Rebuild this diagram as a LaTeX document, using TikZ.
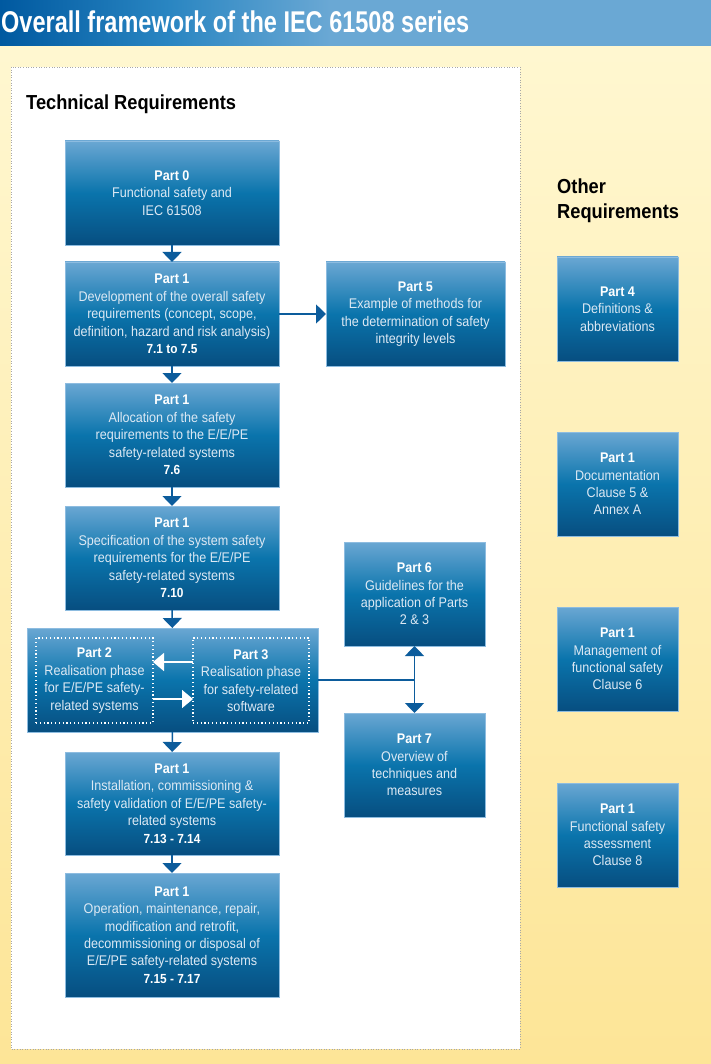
\documentclass[tikz,border=0pt]{standalone}
\usepackage{fontspec}
\setmainfont{Liberation Sans}[FakeStretch=0.9]
\usetikzlibrary{arrows.meta}
\definecolor{boxtop}{HTML}{6AA7D3}
\definecolor{boxmid}{HTML}{0A74AC}
\definecolor{boxbot}{HTML}{074E80}
\definecolor{boxedge}{HTML}{8DBCE0}
\definecolor{boxtext}{HTML}{DDE9F4}
\definecolor{arrowblue}{HTML}{0C5C9C}
\definecolor{bgtop}{HTML}{FFF8D3}
\definecolor{bgbot}{HTML}{FDE597}
\definecolor{titleL}{HTML}{0059A0}
\definecolor{titleM}{HTML}{2A86C2}
\definecolor{titleR}{HTML}{6AA8D4}
\definecolor{panelgray}{HTML}{A8A8A8}
\newcommand\partlbl[1]{{\bfseries\color{white}#1}}
\newcommand\clauselbl[1]{{\fontsize{13.2}{17.4}\selectfont\bfseries\color{white}#1}}
\begin{document}
\begin{tikzpicture}[x=1pt,y=-1pt,
  box/.style={draw=boxedge, line width=0.8pt, top color=boxtop, bottom color=boxbot, middle color=boxmid,
    minimum width=214pt, minimum height=104pt, inner sep=0pt, outer sep=0pt, align=center,
    text=boxtext, font=\fontsize{14}{17.4}\selectfont},
  inner/.style={draw=white, line width=1.2pt, dash pattern=on 1.2pt off 2.6pt, minimum width=117pt,
    minimum height=85pt, inner sep=0pt, outer sep=0pt, align=center, text=boxtext,
    font=\fontsize{14}{17.4}\selectfont},
  flow/.style={draw=arrowblue, line width=1.5pt, -{Triangle[width=19pt,length=10pt]}},
  dflow/.style={draw=arrowblue, line width=1.5pt, {Triangle[width=19pt,length=10pt]}-{Triangle[width=19pt,length=10pt]}},
  link/.style={draw=arrowblue, line width=1.4pt},
  wflow/.style={draw=white, line width=1.5pt, -{Triangle[width=18pt,length=11pt]}},
  heading/.style={font=\fontsize{20.3}{25}\selectfont\bfseries, text=black, inner sep=0pt, align=left}
]
\useasboundingbox (0,0) rectangle (711,1064);
% background
\shade[top color=bgtop, bottom color=bgbot] (0,0) rectangle (711,1064);
% title bar
\shade[left color=titleL, right color=titleM] (0,0) rectangle (170,46);
\shade[left color=titleM, right color=titleR] (170,0) rectangle (330,46);
\fill[titleR] (329.5,0) rectangle (711,46);
\node[anchor=base west, inner sep=0pt, text=white] (title) at (1,33)
  {\resizebox{468pt}{\height}{\fontsize{30}{31}\selectfont\bfseries Overall framework of the IEC 61508 series}};
% panel
\draw[fill=white, draw=panelgray, line width=0.8pt, dash pattern=on 0.8pt off 1.8pt] (11,67) rectangle (520,1049);
\node[heading, anchor=base west] (tech) at (26,110) {Technical Requirements};
\node[heading, anchor=north west] (other) at (557,179) {Other\\Requirements};

% left column
\node[box] (p0) at (172,193) {\partlbl{Part 0}\\Functional safety and\\IEC 61508};
\node[box] (p1a) at (172,314) {\partlbl{Part 1}\\Development of the overall safety\\requirements (concept, scope,\\definition, hazard and risk analysis)\\\clauselbl{7.1 to 7.5}};
\node[box, minimum width=179pt] (p5) at (415.5,314) {\partlbl{Part 5}\\Example of methods for\\the determination of safety\\integrity levels};
\node[box] (p1b) at (172,435) {\partlbl{Part 1}\\Allocation of the safety\\requirements to the E/E/PE\\safety-related systems\\\clauselbl{7.6}};
\node[box] (p1c) at (172,558) {\partlbl{Part 1}\\Specification of the system safety\\requirements for the E/E/PE\\safety-related systems\\\clauselbl{7.10}};
\node[box, minimum width=291pt] (c23) at (172.5,680) {};
\node[inner] (p2) at (94.5,680.5) {\partlbl{Part 2}\\Realisation phase\\for E/E/PE safety-\\related systems};
\node[inner, minimum width=116pt] (p3) at (251,680.5) {\partlbl{Part 3}\\Realisation phase\\for safety-related\\software};
\node[box, minimum width=141pt] (p6) at (414.5,594) {\partlbl{Part 6}\\Guidelines for the\\application of Parts\\2 \& 3};
\node[box, minimum width=141pt] (p7) at (414.5,765) {\partlbl{Part 7}\\Overview of\\techniques and\\measures};
\node[box, minimum height=103pt] (p1d) at (172,803.5) {\partlbl{Part 1}\\Installation, commissioning \&\\safety validation of E/E/PE safety-\\related systems\\\clauselbl{7.13 - 7.14}};
\node[box, minimum height=124pt] (p1e) at (172,935) {\partlbl{Part 1}\\Operation, maintenance, repair,\\modification and retrofit,\\decommissioning or disposal of\\E/E/PE safety-related systems\\\clauselbl{7.15 - 7.17}};

% right column
\node[box, minimum width=121pt] (p4) at (617.5,309) {\partlbl{Part 4}\\Definitions \&\\abbreviations};
\node[box, minimum width=121pt] (r1) at (617.5,484) {\partlbl{Part 1}\\Documentation\\Clause 5 \&\\Annex A};
\node[box, minimum width=121pt] (r2) at (617.5,659) {\partlbl{Part 1}\\Management of\\functional safety\\Clause 6};
\node[box, minimum width=121pt] (r3) at (617.5,835) {\partlbl{Part 1}\\Functional safety\\assessment\\Clause 8};

% connectors
\draw[flow] (p0) -- (p1a);
\draw[flow] (p1a) -- (p5);
\draw[flow] (p1a) -- (p1b);
\draw[flow] (p1b) -- (p1c);
\draw[flow] (p1c) -- (c23);
\draw[flow] (c23) -- (p1d);
\draw[flow] (p1d) -- (p1e);
\coordinate (j) at (414.5,680);
\draw[link] (c23.east) -- (j);
\draw[dflow] (p6.south) -- (p7.north);
\draw[wflow] ([yshift=18.5pt]p3.west) -- ([yshift=18.5pt]p2.east);
\draw[wflow] ([yshift=-18.5pt]p2.east) -- ([yshift=-18.5pt]p3.west);
\end{tikzpicture}
\end{document}
